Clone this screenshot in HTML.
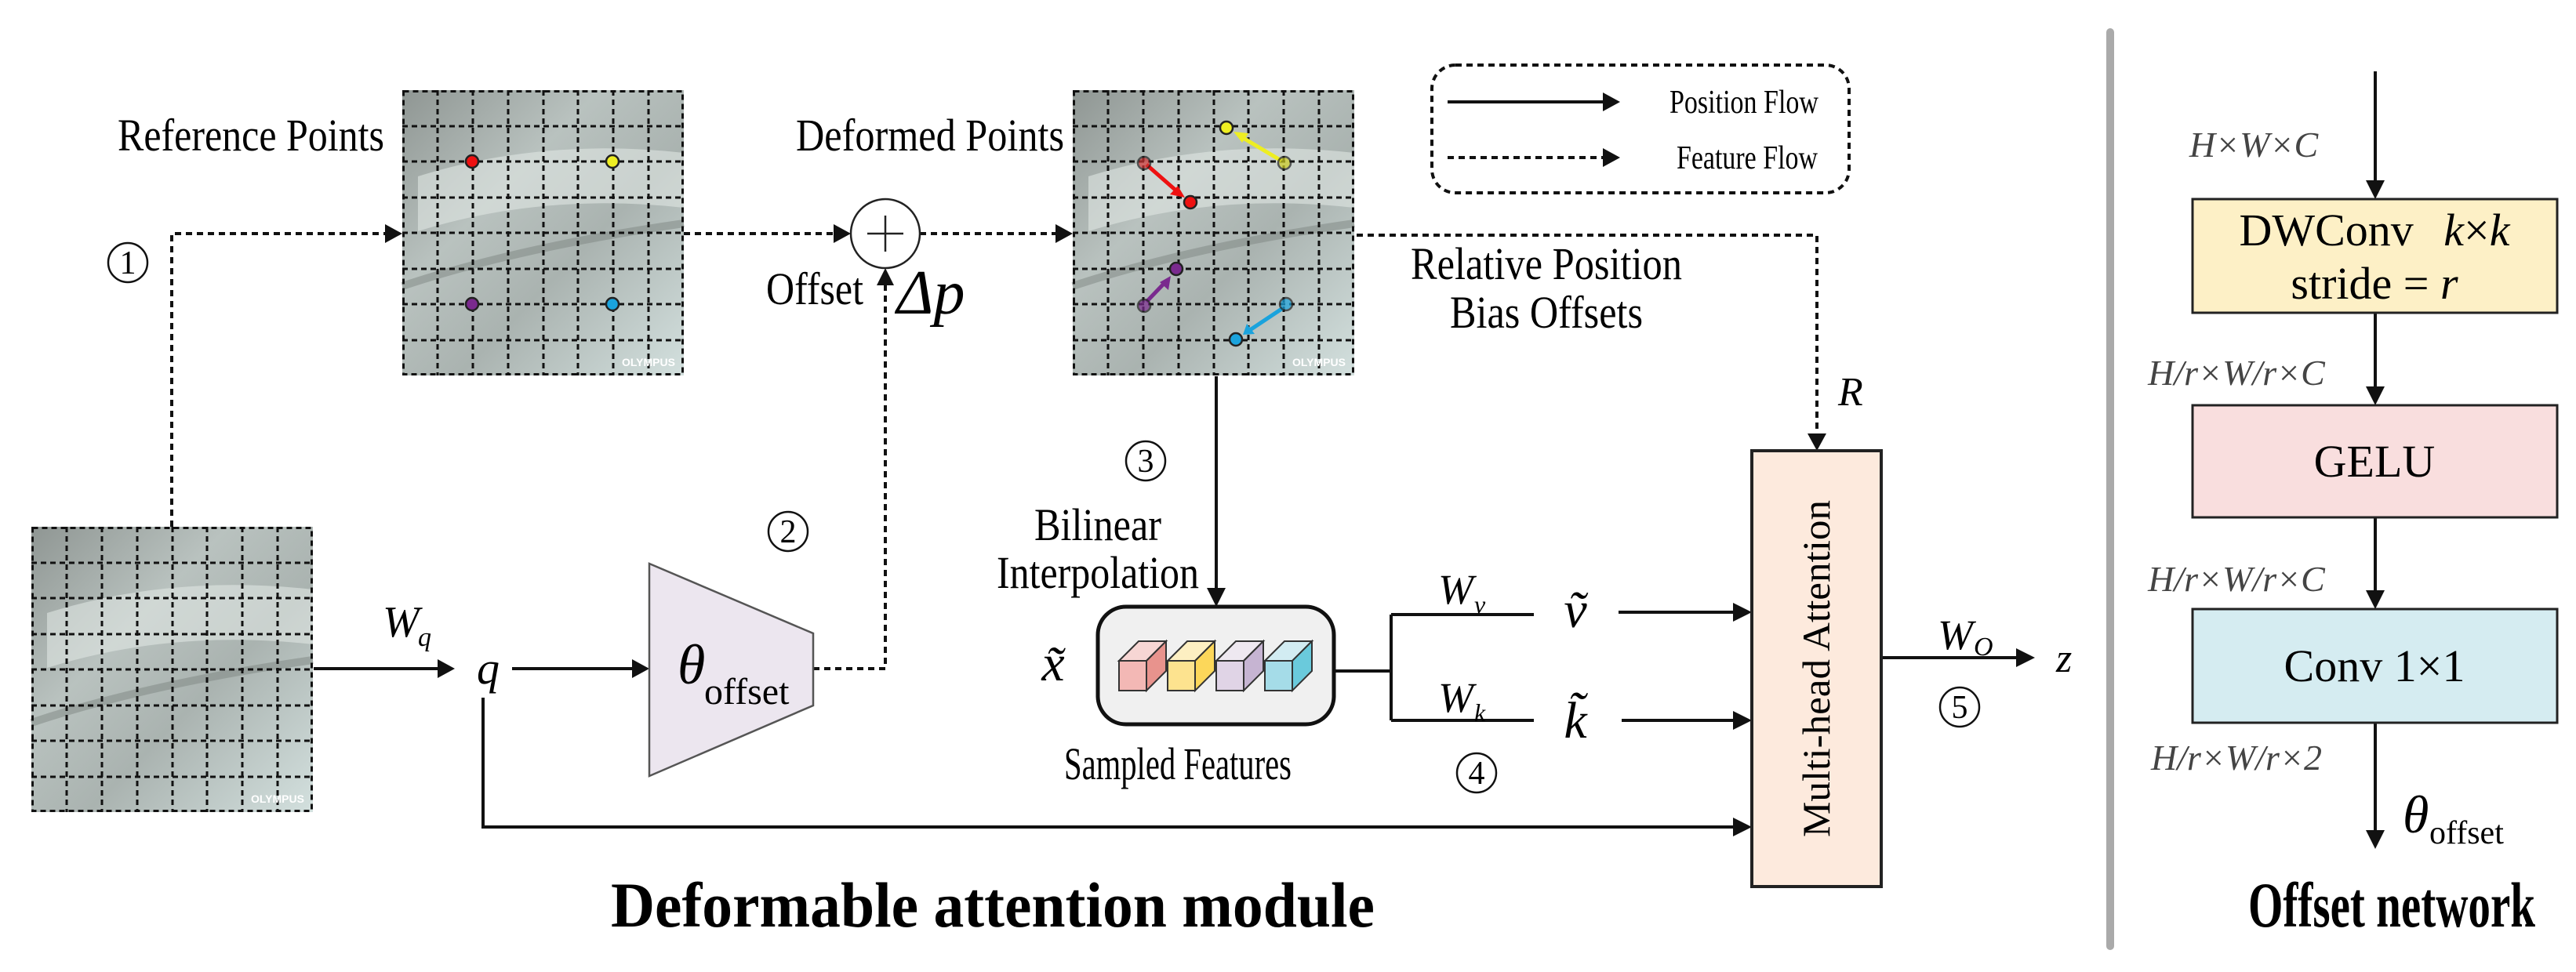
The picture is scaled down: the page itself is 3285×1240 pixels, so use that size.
<!DOCTYPE html>
<html><head><meta charset="utf-8"><style>
html,body{margin:0;padding:0;background:#fff;}
svg{display:block;}
</style></head><body>
<svg width="3285" height="1240" viewBox="0 0 3285 1240" xmlns="http://www.w3.org/2000/svg" font-family="'Liberation Serif', serif">
<defs>
<linearGradient id="ph" x1="0" y1="0" x2="1" y2="1">
<stop offset="0" stop-color="#8f9693"/><stop offset="0.35" stop-color="#b9c2bf"/><stop offset="0.6" stop-color="#aab3b0"/><stop offset="1" stop-color="#d3e0de"/>
</linearGradient>
<g id="grid">
<rect x="0" y="0" width="359" height="364" fill="url(#ph)"/>
<path d="M20 110 Q180 60 359 80 L359 150 Q180 130 20 180 Z" fill="#dfe6e3" opacity="0.6"/>
<path d="M0 250 Q150 200 359 170" stroke="#7d8582" stroke-width="10" fill="none" opacity="0.5"/>
<g stroke="#111" stroke-width="3" stroke-dasharray="7 5" fill="none">
<rect x="1.5" y="1.5" width="356" height="361"/>
<path d="M45 0V364M90 0V364M135 0V364M180 0V364M224 0V364M269 0V364M314 0V364"/>
<path d="M0 46H359M0 91H359M0 137H359M0 182H359M0 228H359M0 273H359M0 319H359"/>
</g>
<text x="280" y="352" font-family="'Liberation Sans',sans-serif" font-size="14" font-weight="bold" fill="#fff">OLYMPUS</text>
</g>
</defs>

<use href="#grid" x="513" y="115"/>
<use href="#grid" x="40" y="672"/>
<use href="#grid" x="1368" y="115"/>

<g stroke="#222" stroke-width="2.5">
<circle cx="602" cy="206" r="8" fill="#e11"/>
<circle cx="781" cy="206" r="8" fill="#ee2"/>
<circle cx="602" cy="388" r="8" fill="#7a2a8e"/>
<circle cx="781" cy="388" r="8" fill="#1aa3dd"/>
</g>
<g stroke-width="5" fill="none">
<line x1="1462" y1="210" x2="1502" y2="245" stroke="#e11"/>
<line x1="1634" y1="205" x2="1582" y2="174" stroke="#ee2"/>
<line x1="1462" y1="385" x2="1486" y2="360" stroke="#7a2a8e"/>
<line x1="1636" y1="393" x2="1594" y2="421" stroke="#1aa3dd"/>
</g>
<polygon points="1511,252 1492,248 1502,237" fill="#e11"/>
<polygon points="1573,168 1592,170 1584,182" fill="#ee2"/>
<polygon points="1493,352 1490,370 1479,360" fill="#7a2a8e"/>
<polygon points="1585,427 1590,413 1600,426" fill="#1aa3dd"/>
<g stroke="#222" stroke-width="2.5">
<circle cx="1459" cy="208" r="8" fill="#c33" opacity="0.7"/>
<circle cx="1518" cy="258" r="8" fill="#e11"/>
<circle cx="1638" cy="208" r="8" fill="#cc2" opacity="0.7"/>
<circle cx="1564" cy="163" r="8" fill="#ee2"/>
<circle cx="1459" cy="390" r="8" fill="#7a2a8e" opacity="0.7"/>
<circle cx="1500" cy="343" r="8" fill="#7a2a8e"/>
<circle cx="1640" cy="388" r="8" fill="#1aa3dd" opacity="0.7"/>
<circle cx="1576" cy="433" r="8" fill="#1aa3dd"/>
</g>

<g stroke="#111" stroke-width="4" stroke-dasharray="8 6" fill="none">
<path d="M219 672V298H495"/>
<path d="M872 298H1066"/>
<path d="M1173 298H1350"/>
<path d="M1037 853H1129V360"/>
<path d="M1730 300H2317V558"/>
<path d="M1846 201H2045"/>
</g>
<g fill="#111">
<polygon points="513,298 491,286 491,310"/>
<polygon points="1085,298 1063,286 1063,310"/>
<polygon points="1368,298 1346,286 1346,310"/>
<polygon points="1129,342 1118,364 1140,364"/>
<polygon points="2317,575 2305,553 2329,553"/>
<polygon points="2066,201 2044,189 2044,213"/>
</g>
<circle cx="1129" cy="298" r="44" fill="#fff" stroke="#222" stroke-width="2.5"/>
<path d="M1106 298H1152M1129 275V321" stroke="#222" stroke-width="2.5"/>

<g stroke="#111" stroke-width="4" fill="none">
<path d="M400 853H560"/>
<path d="M653 853H808"/>
<path d="M616 890V1055H2212"/>
<path d="M1551 480V752"/>
<path d="M1701 856H1774M1774 784V919M1774 784H1956M1774 919H1956"/>
<path d="M2064 781H2212M2068 919H2212"/>
<path d="M2399 839H2574"/>
<path d="M1846 130H2045"/>
<path d="M3029 91V234M3029 399V497M3029 660V757M3029 922V1061"/>
</g>
<g fill="#111">
<polygon points="580,853 558,841 558,865"/>
<polygon points="828,853 806,841 806,865"/>
<polygon points="1551,774 1539,750 1563,750"/>
<polygon points="2234,1055 2210,1043 2210,1067"/>
<polygon points="2234,781 2210,769 2210,793"/>
<polygon points="2234,919 2210,907 2210,931"/>
<polygon points="2595,839 2571,827 2571,851"/>
<polygon points="2066,130 2044,118 2044,142"/>
<polygon points="3029,254 3017,230 3041,230"/>
<polygon points="3029,517 3017,493 3041,493"/>
<polygon points="3029,777 3017,753 3041,753"/>
<polygon points="3029,1083 3017,1059 3041,1059"/>
</g>

<polygon points="828,719 1037,808 1037,900 828,990" fill="#ece6ef" stroke="#555" stroke-width="2.5"/>
<text x="864" y="872" font-family="'Liberation Serif',serif" font-size="72" font-style="italic">θ</text>
<text x="898" y="898" font-family="'Liberation Serif',serif" font-size="48">offset</text>

<rect x="1400" y="774" width="301" height="150" rx="36" fill="#f0f0f0" stroke="#111" stroke-width="5"/>
<g stroke="#333" stroke-width="2">
<g transform="translate(1427,0)"><polygon points="0,843 35,843 35,881 0,881" fill="#f3b8b5"/><polygon points="0,843 25,818 60,818 35,843" fill="#f7d6d4"/><polygon points="35,843 60,818 60,856 35,881" fill="#e8938d"/></g>
<g transform="translate(1489,0)"><polygon points="0,843 35,843 35,881 0,881" fill="#fde38f"/><polygon points="0,843 25,818 60,818 35,843" fill="#fdefc2"/><polygon points="35,843 60,818 60,856 35,881" fill="#fcd75a"/></g>
<g transform="translate(1551,0)"><polygon points="0,843 35,843 35,881 0,881" fill="#e0d4e6"/><polygon points="0,843 25,818 60,818 35,843" fill="#eee8f0"/><polygon points="35,843 60,818 60,856 35,881" fill="#c6b4d2"/></g>
<g transform="translate(1613,0)"><polygon points="0,843 35,843 35,881 0,881" fill="#a5dce8"/><polygon points="0,843 25,818 60,818 35,843" fill="#d2ecf2"/><polygon points="35,843 60,818 60,856 35,881" fill="#6acadc"/></g>
</g>

<rect x="2234" y="575" width="165" height="556" fill="#fdeadd" stroke="#222" stroke-width="4"/>
<text transform="translate(2333,853) rotate(-90)" text-anchor="middle" font-family="'Liberation Serif',serif" font-size="50" textLength="430" lengthAdjust="spacingAndGlyphs">Multi-head  Attention</text>

<rect x="1826" y="83" width="532" height="163" rx="30" fill="none" stroke="#111" stroke-width="4" stroke-dasharray="8 6"/>
<g font-family="'Liberation Serif',serif" font-size="42" text-anchor="middle">
<text x="2224" y="144" textLength="190" lengthAdjust="spacingAndGlyphs">Position Flow</text>
<text x="2228" y="215" textLength="180" lengthAdjust="spacingAndGlyphs">Feature Flow</text>
</g>

<g font-family="'Liberation Serif',serif" font-size="58">
<text x="150" y="192" textLength="340" lengthAdjust="spacingAndGlyphs">Reference Points</text>
<text x="1015" y="192" textLength="342" lengthAdjust="spacingAndGlyphs">Deformed Points</text>
<text x="977" y="388" textLength="124" lengthAdjust="spacingAndGlyphs">Offset</text>
<text x="1400" y="689" text-anchor="middle" textLength="162" lengthAdjust="spacingAndGlyphs">Bilinear</text>
<text x="1400" y="750" text-anchor="middle" textLength="258" lengthAdjust="spacingAndGlyphs">Interpolation</text>
<text x="1502" y="994" text-anchor="middle" textLength="290" lengthAdjust="spacingAndGlyphs">Sampled Features</text>
<text x="1972" y="356" text-anchor="middle" textLength="346" lengthAdjust="spacingAndGlyphs">Relative Position</text>
<text x="1972" y="418" text-anchor="middle" textLength="246" lengthAdjust="spacingAndGlyphs">Bias Offsets</text>
</g>
<g fill="none" stroke="#111" stroke-width="2.5">
<circle cx="163" cy="335" r="25"/>
<circle cx="1005" cy="678" r="25"/>
<circle cx="1461" cy="588" r="25"/>
<circle cx="1883" cy="986" r="25"/>
<circle cx="2499" cy="902" r="25"/>
</g>
<g font-family="'Liberation Serif',serif" font-size="42" text-anchor="middle">
<text x="163" y="349">1</text>
<text x="1005" y="692">2</text>
<text x="1461" y="602">3</text>
<text x="1883" y="1000">4</text>
<text x="2499" y="916">5</text>
</g>
<text x="1187" y="400" text-anchor="middle" font-family="'Liberation Serif',serif" font-size="80" font-style="italic">Δp</text>
<g font-family="'Liberation Serif',serif" font-style="italic">
<text x="488" y="812" font-size="56">W</text><text x="533" y="824" font-size="34">q</text>
<text x="608" y="872" font-size="58">q</text>
<text x="1343" y="868" text-anchor="middle" font-size="66">x̃</text>
<text x="1834" y="770" font-size="54">W</text><text x="1880" y="782" font-size="32">v</text>
<text x="1834" y="908" font-size="54">W</text><text x="1880" y="920" font-size="32">k</text>
<text x="2009" y="800" text-anchor="middle" font-size="66">ṽ</text>
<text x="2009" y="941" text-anchor="middle" font-size="66">k̃</text>
<text x="2344" y="517" font-size="52">R</text>
<text x="2471" y="828" font-size="54">W</text><text x="2517" y="836" font-size="34">O</text>
<text x="2622" y="857" font-size="52">z</text>
</g>

<rect x="2686" y="36" width="10" height="1176" rx="5" fill="#aaa"/>

<rect x="2796" y="254" width="465" height="145" fill="#fdf0c6" stroke="#222" stroke-width="3"/>
<rect x="2796" y="517" width="465" height="143" fill="#f9dede" stroke="#222" stroke-width="3"/>
<rect x="2796" y="777" width="465" height="145" fill="#d5ecf1" stroke="#222" stroke-width="3"/>
<g font-family="'Liberation Serif',serif" font-size="58" text-anchor="middle">
<text x="3028" y="313">DWConv <tspan font-style="italic" dx="24">k</tspan>×<tspan font-style="italic">k</tspan></text>
<text x="3028" y="381">stride = <tspan font-style="italic">r</tspan></text>
<text x="3028" y="608">GELU</text>
<text x="3028" y="869">Conv 1×1</text>
</g>
<g font-family="'Liberation Serif',serif" font-size="46" font-style="italic" fill="#444" text-anchor="middle">
<text x="2874" y="200">H×W×C</text>
<text x="2852" y="491">H/r×W/r×C</text>
<text x="2852" y="754">H/r×W/r×C</text>
<text x="2852" y="982">H/r×W/r×2</text>
</g>
<text x="3064" y="1062" font-family="'Liberation Serif',serif" font-size="68" font-style="italic">θ</text>
<text x="3098" y="1076" font-family="'Liberation Serif',serif" font-size="42">offset</text>

<g font-family="'Liberation Serif',serif" font-weight="bold" font-size="82" text-anchor="middle">
<text x="1266" y="1182" textLength="974" lengthAdjust="spacingAndGlyphs">Deformable attention module</text>
<text x="3050" y="1182" textLength="366" lengthAdjust="spacingAndGlyphs">Offset network</text>
</g>
</svg>
</body></html>
